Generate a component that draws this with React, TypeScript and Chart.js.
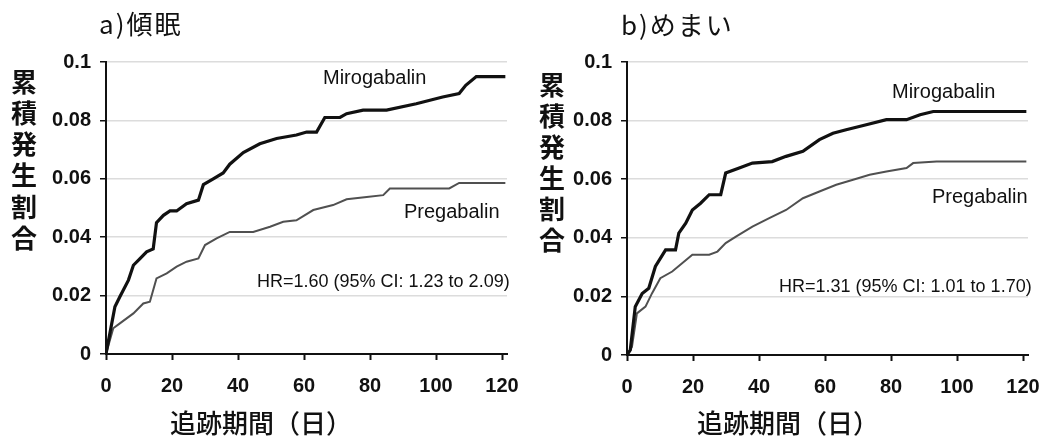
import React, { useEffect, useRef } from 'react';
import { Chart, registerables } from 'chart.js';

Chart.register(...registerables);

// ---------- data ----------
const xTicks = [0, 20, 40, 60, 80, 100, 120];
const yTicks = [0, 0.02, 0.04, 0.06, 0.08, 0.1];
const yTickLabels = ['0', '0.02', '0.04', '0.06', '0.08', '0.1'];
const seriesNames = ['Mirogabalin', 'Pregabalin'];

// a) 傾眠 (somnolence)
const somMiroDays = [0, 2.7, 4.2, 6.8, 8.3, 10.3, 12.3, 14.3, 15.3, 17.4, 19.4, 21.4, 24.4, 28, 29.5, 32.5, 35.5, 37.5, 41.6, 46.6, 51.7, 57.7, 60.8, 63.8, 66.3, 70.9, 72.9, 77.9, 85, 94, 102, 107, 109, 112.2, 121];
const somMiroRate = [0, 0.0162, 0.0196, 0.0253, 0.0304, 0.0327, 0.035, 0.036, 0.045, 0.0475, 0.049, 0.049, 0.0515, 0.0527, 0.058, 0.06, 0.062, 0.065, 0.069, 0.072, 0.0738, 0.075, 0.076, 0.076, 0.081, 0.081, 0.0823, 0.0835, 0.0835, 0.0857, 0.088, 0.0892, 0.092, 0.095, 0.095];
const somPregDays = [0, 2.2, 4.2, 8.3, 11.3, 13.3, 15.3, 18.4, 21.4, 24.4, 28, 30, 33.5, 37.5, 44.6, 49.7, 53.7, 57.7, 62.8, 68.8, 72.9, 79, 84, 86, 92, 104, 107, 121];
const somPregRate = [0, 0.0088, 0.0105, 0.0139, 0.0173, 0.0179, 0.0259, 0.0276, 0.0299, 0.0316, 0.0327, 0.0373, 0.0396, 0.0418, 0.0418, 0.0436, 0.0453, 0.0458, 0.0493, 0.051, 0.053, 0.0538, 0.0544, 0.0567, 0.0567, 0.0567, 0.0586, 0.0586];

// b) めまい (dizziness)
const dizMiroDays = [0, 1, 2.5, 4.6, 6.6, 8.6, 11.7, 14.7, 15.7, 17.8, 19.8, 22.3, 24.9, 28.4, 29.9, 34, 38, 44, 48.2, 53.3, 58.3, 62.4, 66.4, 72.5, 78.6, 84.7, 88.8, 92.8, 121];
const dizMiroRate = [0, 0.0017, 0.0165, 0.021, 0.0228, 0.0302, 0.0359, 0.0359, 0.0416, 0.045, 0.0495, 0.0518, 0.0547, 0.0547, 0.0621, 0.0638, 0.0655, 0.066, 0.0678, 0.0695, 0.0735, 0.0757, 0.0769, 0.0786, 0.0803, 0.0803, 0.082, 0.0831, 0.0831];
const dizPregDays = [0, 1.5, 3, 5.6, 7.6, 10.1, 13.7, 16.7, 19.8, 24.9, 27.4, 29.9, 33, 38, 43.1, 48.2, 53.3, 58.3, 63.4, 68.5, 73.5, 78.6, 84.7, 86.7, 93.8, 121];
const dizPregRate = [0, 0.0028, 0.0142, 0.0165, 0.0211, 0.0262, 0.0285, 0.0313, 0.0342, 0.0342, 0.0353, 0.0382, 0.0404, 0.0438, 0.0467, 0.0495, 0.0535, 0.0558, 0.0581, 0.0598, 0.0615, 0.0626, 0.0638, 0.0655, 0.066, 0.066];

const panelTitles = ['a)傾眠', 'b)めまい'];
const hrTexts = ['HR=1.60 (95% CI: 1.23 to 2.09)', 'HR=1.31 (95% CI: 1.01 to 1.70)'];
const yAxisTitle = '累積発生割合';
const xAxisTitle = '追跡期間（日）';

// ---------- helpers ----------
const toPoints = (xs: number[], ys: number[]) => xs.map((x, i) => ({ x, y: ys[i] }));

const LATIN = '"Liberation Sans", Arial, sans-serif';
const CJK = '"Noto Sans CJK JP", sans-serif';

const textPlugin = {
  id: 'panelText',
  afterDraw(chart: any, _args: any, opts: any) {
    const ctx = chart.ctx;
    for (const it of opts.items || []) {
      ctx.save();
      ctx.font = it.font;
      ctx.fillStyle = it.color || '#111';
      ctx.textAlign = it.align || 'left';
      ctx.textBaseline = 'middle';
      if (it.spacing) (ctx as any).letterSpacing = it.spacing;
      if (it.vertical) {
        const chars = Array.from(it.text as string);
        chars.forEach((c, i) => ctx.fillText(c, it.x, it.y + i * it.step));
      } else {
        ctx.fillText(it.text, it.x, it.y);
      }
      ctx.restore();
    }
  },
};

type Geo = {
  width: number;
  left: number;
  right: number;
  top: number;
  bottom: number;
  texts: any[];
};

function makeConfig(miro: any[], preg: any[], geo: Geo): any {
  return {
    type: 'line',
    data: {
      datasets: [
        {
          label: seriesNames[0],
          data: miro,
          borderColor: '#111111',
          borderWidth: 3.2,
          pointRadius: 0,
          tension: 0,
          order: 1,
        },
        {
          label: seriesNames[1],
          data: preg,
          borderColor: '#505050',
          borderWidth: 2,
          pointRadius: 0,
          tension: 0,
          order: 2,
        },
      ],
    },
    options: {
      animation: false,
      responsive: false,
      events: [],
      layout: {
        padding: { left: 0, top: geo.top, right: geo.width - geo.right, bottom: 0 },
      },
      plugins: {
        legend: { display: false },
        tooltip: { enabled: false },
        title: { display: false },
        panelText: { items: geo.texts },
      },
      scales: {
        x: {
          type: 'linear',
          min: 0,
          max: 121.5,
          afterBuildTicks: (axis: any) => {
            axis.ticks = xTicks.map((v) => ({ value: v }));
          },
          afterFit: (axis: any) => {
            axis.height = 438 - geo.bottom;
            axis.paddingLeft = 0;
            axis.paddingRight = 0;
          },
          border: { display: true, color: '#111', width: 2 },
          grid: {
            drawOnChartArea: false,
            drawTicks: true,
            tickLength: 6,
            tickColor: '#111',
            tickWidth: 2,
          },
          ticks: {
            autoSkip: false,
            maxRotation: 0,
            padding: 14,
            color: '#111',
            font: { family: LATIN, size: 20, weight: 'bold' },
            callback: (v: any) => String(v),
          },
        },
        y: {
          type: 'linear',
          min: 0,
          max: 0.1,
          afterBuildTicks: (axis: any) => {
            axis.ticks = yTicks.map((v) => ({ value: v }));
          },
          afterFit: (axis: any) => {
            axis.width = geo.left;
          },
          border: { display: true, color: '#111', width: 2 },
          grid: {
            color: '#dcdcdc',
            lineWidth: 1.5,
            drawTicks: true,
            tickLength: 6,
            tickColor: '#111',
            tickWidth: 1.5,
          },
          ticks: {
            padding: 9,
            color: '#111',
            font: { family: LATIN, size: 20, weight: 'bold' },
            callback: (_v: any, i: number) => yTickLabels[i],
          },
        },
      },
    },
    plugins: [textPlugin],
  };
}

function Panel(props: { miro: any[]; preg: any[]; geo: Geo; offset: number }) {
  const ref = useRef<HTMLCanvasElement>(null);
  useEffect(() => {
    if (!ref.current) return;
    const chart = new Chart(ref.current, makeConfig(props.miro, props.preg, props.geo));
    return () => chart.destroy();
  }, []);
  return (
    <canvas
      ref={ref}
      width={props.geo.width}
      height={438}
      style={{ position: 'absolute', left: props.offset, top: 0, width: props.geo.width, height: 438, display: 'block' }}
    />
  );
}

const leftGeo: Geo = {
  width: 520,
  left: 106,
  right: 507,
  top: 62,
  bottom: 354,
  texts: [
    { text: panelTitles[0], x: 99, y: 24, font: `26px ${CJK}`, spacing: '2px' },
    { text: yAxisTitle, x: 24, y: 82, step: 31.2, vertical: true, align: 'center', font: `bold 26px ${CJK}` },
    { text: xAxisTitle, x: 261, y: 423, align: 'center', font: `500 26px ${CJK}` },
    { text: seriesNames[0], x: 323, y: 78, font: `20px ${LATIN}` },
    { text: seriesNames[1], x: 404, y: 212, font: `20px ${LATIN}` },
    { text: hrTexts[0], x: 257, y: 282, font: `18px ${LATIN}` },
  ],
};

const rightGeo: Geo = {
  width: 523,
  left: 107,
  right: 508,
  top: 62,
  bottom: 355,
  texts: [
    { text: panelTitles[1], x: 101, y: 25, font: `26px ${CJK}`, spacing: '2px' },
    { text: yAxisTitle, x: 32, y: 85, step: 31, vertical: true, align: 'center', font: `bold 26px ${CJK}` },
    { text: xAxisTitle, x: 268, y: 423, align: 'center', font: `500 26px ${CJK}` },
    { text: seriesNames[0], x: 372, y: 92, font: `20px ${LATIN}` },
    { text: seriesNames[1], x: 412, y: 197, font: `20px ${LATIN}` },
    { text: hrTexts[1], x: 259, y: 287, font: `18px ${LATIN}` },
  ],
};

export default function App() {
  return (
    <div style={{ position: 'fixed', left: 0, top: 0, width: 1043, height: 438, background: '#fff', overflow: 'hidden' }}>
      <Panel miro={toPoints(somMiroDays, somMiroRate)} preg={toPoints(somPregDays, somPregRate)} geo={leftGeo} offset={0} />
      <Panel miro={toPoints(dizMiroDays, dizMiroRate)} preg={toPoints(dizPregDays, dizPregRate)} geo={rightGeo} offset={520} />
    </div>
  );
}
